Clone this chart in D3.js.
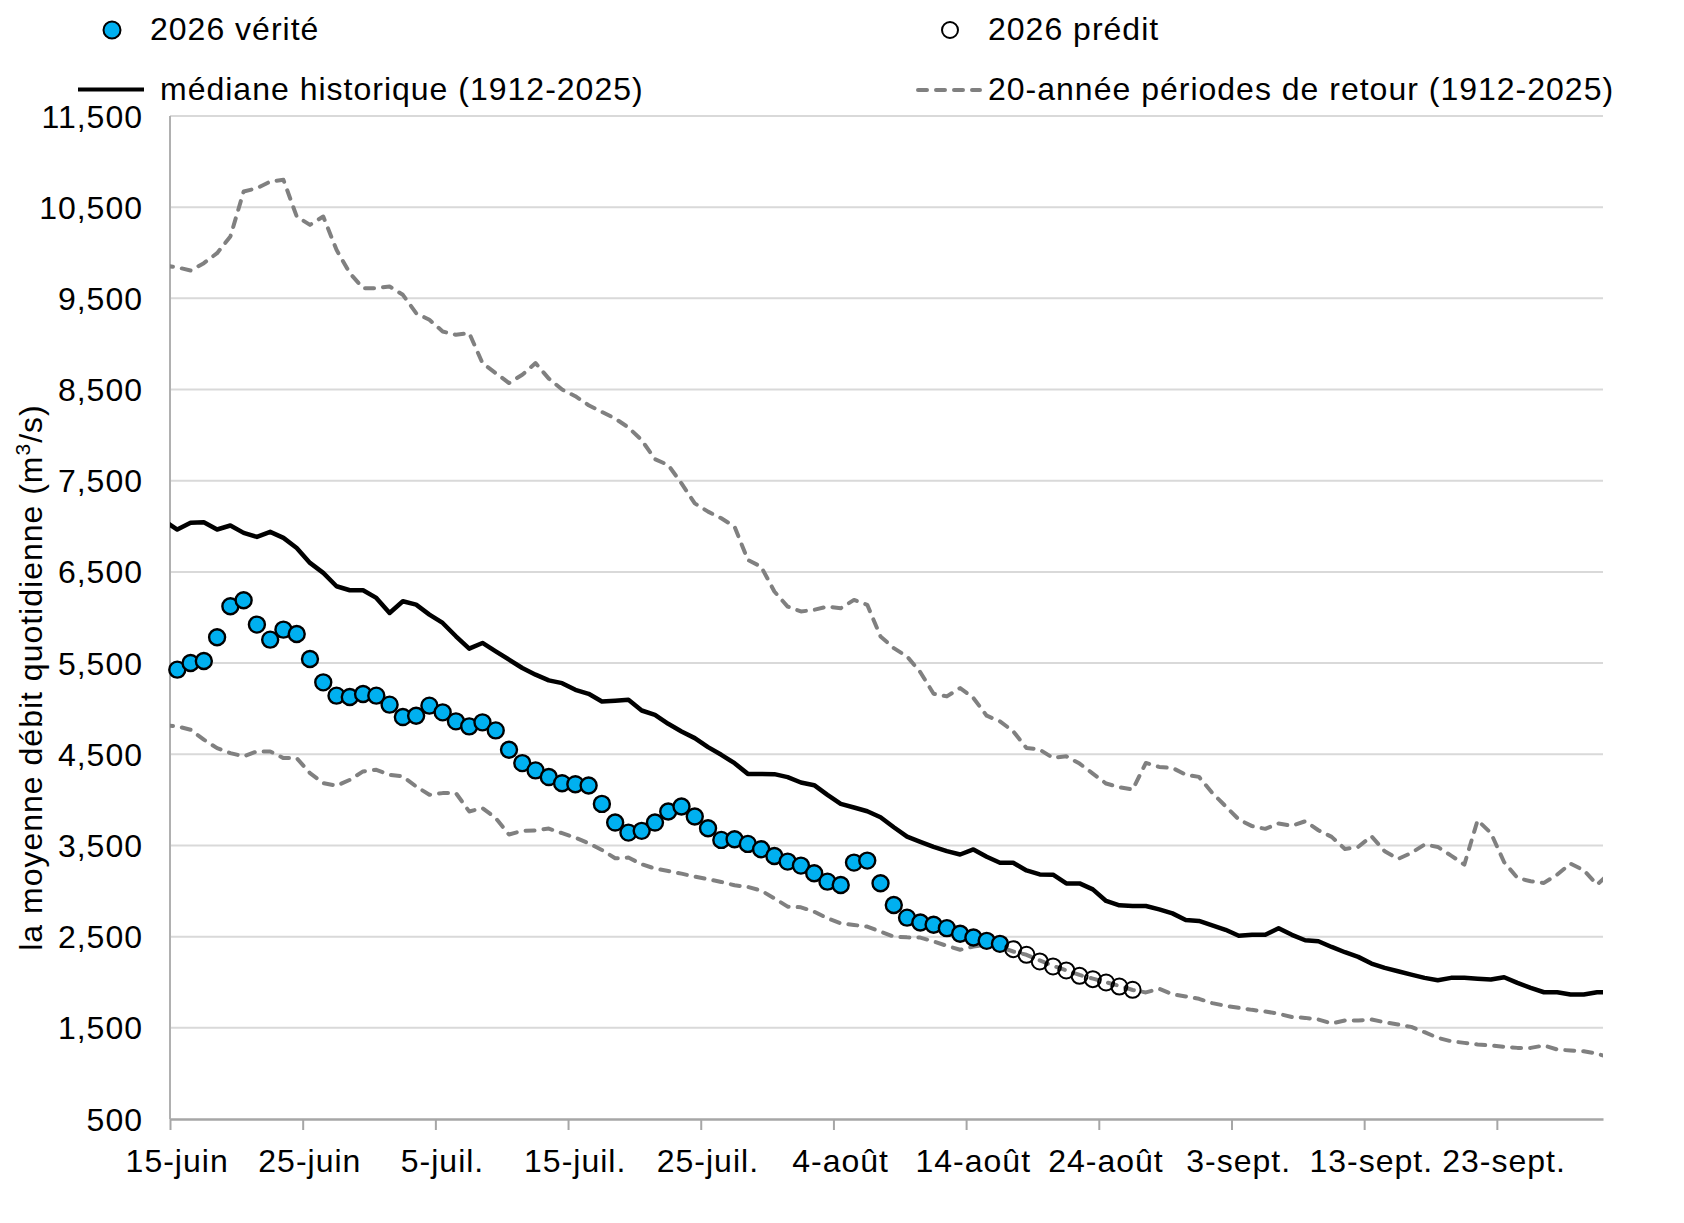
<!DOCTYPE html>
<html>
<head>
<meta charset="utf-8">
<script src="https://cdn.jsdelivr.net/npm/d3@7"></script>
<style>
  body { margin: 0; background: #fff; }
  text { font-family: "Liberation Sans", Arial, sans-serif; fill: #000; }
</style>
</head>
<body>
<svg id="chart" width="1684" height="1223"></svg>
<script>
// ---------------- DATA ----------------
// x tick labels (every 10 days starting 15 June)
const dateLabels = ["15-juin", "25-juin", "5-juil.", "15-juil.", "25-juil.", "4-août",
                    "14-août", "24-août", "3-sept.", "13-sept.", "23-sept."];
const tickDays = [0, 10, 20, 30, 40, 50, 60, 70, 80, 90, 100];
const yTicks = [500, 1500, 2500, 3500, 4500, 5500, 6500, 7500, 8500, 9500, 10500, 11500];

// day index of the first value of each historical series (14 June = -1)
const lineStartDay = -1;

// historical median (1912-2025), 14 June .. 1 Oct
const median = [7060, 6965, 7038, 7045, 6965, 7009, 6928, 6884, 6939, 6873, 6763,
  6599, 6489, 6343, 6299, 6299, 6215, 6050, 6178, 6141, 6032,
  5940, 5794, 5658, 5721, 5629, 5538, 5446, 5373, 5310, 5280,
  5207, 5163, 5079, 5087, 5098, 4980, 4933, 4834, 4750, 4677,
  4578, 4494, 4402, 4285, 4285, 4282, 4249, 4190, 4161, 4055,
  3956, 3916, 3875, 3810, 3700, 3597, 3540, 3485, 3438, 3401,
  3456, 3376, 3310, 3310, 3226, 3182, 3179, 3084, 3084, 3018,
  2891, 2843, 2836, 2836, 2799, 2755, 2682, 2672, 2624, 2575,
  2509, 2520, 2520, 2593, 2520, 2460, 2450, 2387, 2329, 2278,
  2205, 2157, 2121, 2084, 2048, 2022, 2048, 2048, 2037, 2029,
  2055, 1993, 1938, 1890, 1890, 1865, 1865, 1890, 1890];

// 20-year return period, upper envelope
const upper20 = [9860, 9840, 9806, 9886, 9996, 10178, 10672, 10708, 10781, 10800, 10398,
  10306, 10398, 10032, 9777, 9612, 9612, 9630, 9539, 9338, 9265,
  9137, 9100, 9119, 8790, 8680, 8571, 8662, 8790, 8620, 8500,
  8427, 8328, 8255, 8182, 8084, 7945, 7737, 7672, 7471, 7252,
  7161, 7088, 6996, 6631, 6558, 6285, 6120, 6066, 6084, 6120,
  6102, 6193, 6139, 5792, 5664, 5573, 5400, 5164, 5135, 5226,
  5117, 4923, 4861, 4752, 4569, 4551, 4460, 4478, 4398, 4288,
  4179, 4139, 4113, 4405, 4361, 4350, 4277, 4252, 4077, 3931,
  3785, 3712, 3682, 3741, 3715, 3765, 3667, 3594, 3462, 3484,
  3601, 3436, 3352, 3418, 3510, 3484, 3389, 3290, 3776, 3637,
  3316, 3144, 3107, 3089, 3181, 3301, 3228, 3071, 3200];

// 20-year return period, lower envelope
const lower20 = [4820, 4806, 4769, 4660, 4568, 4513, 4477, 4531, 4531, 4458, 4458,
  4294, 4184, 4155, 4220, 4312, 4330, 4275, 4257, 4147, 4056,
  4074, 4074, 3873, 3910, 3800, 3620, 3660, 3665, 3685, 3634,
  3586, 3524, 3451, 3359, 3367, 3294, 3246, 3220, 3191, 3158,
  3129, 3100, 3063, 3045, 3005, 2920, 2829, 2822, 2774, 2701,
  2646, 2628, 2610, 2555, 2500, 2492, 2490, 2447, 2399, 2356,
  2392, 2410, 2385, 2337, 2301, 2240, 2180, 2130, 2080, 2040,
  2000, 1960, 1915, 1888, 1928, 1869, 1844, 1818, 1771, 1741,
  1719, 1697, 1679, 1654, 1618, 1609, 1591, 1547, 1580, 1580,
  1591, 1561, 1536, 1510, 1452, 1390, 1353, 1335, 1317, 1306,
  1291, 1280, 1280, 1306, 1262, 1251, 1243, 1218, 1170];

// 2026 observed (from 15 June, day 0)
const veriteStartDay = 0;
const verite = [5428, 5501, 5523, 5783, 6123, 6189, 5922, 5757, 5867, 5819,
  5545, 5289, 5143, 5128, 5161, 5143, 5044, 4908, 4923, 5033,
  4960, 4861, 4806, 4850, 4762, 4550, 4403, 4323, 4250, 4183,
  4172, 4157, 3956, 3751, 3641, 3660, 3751, 3872, 3927, 3817,
  3689, 3561, 3568, 3517, 3458, 3385, 3323, 3279, 3195, 3103,
  3067, 3312, 3334, 3085, 2847, 2708, 2655, 2630, 2593, 2531,
  2491, 2454, 2421];

// 2026 predicted (from 17 Aug, day 63)
const preditStartDay = 63;
const predit = [2363, 2301, 2228, 2173, 2129, 2070, 2034, 1997, 1953, 1917];

const legendLabels = {
  verite: "2026 vérité",
  predit: "2026 prédit",
  median: "médiane historique (1912-2025)",
  rp: "20-année périodes de retour (1912-2025)"
};
const yTitle = "la moyenne débit quotidienne (m";

// ---------------- LAYOUT ----------------
const plot = { left: 170, right: 1603, top: 116, bottom: 1119 };
const POINT_OFFSET = 0.55;   // points sit inside their day slot
const FONT = 32;

const svg = d3.select("#chart");
const x = d3.scaleLinear().domain([0, 108]).range([plot.left, plot.right]);
const y = d3.scaleLinear().domain([500, 11500]).range([plot.bottom, plot.top]);

const toPts = (arr, start) => arr.map((v, i) => ({ d: start + i, v }));

// gridlines
svg.append("g").selectAll("line")
  .data(yTicks.filter(t => t !== 500))
  .join("line")
  .attr("x1", plot.left).attr("x2", plot.right)
  .attr("y1", d => y(d)).attr("y2", d => y(d))
  .attr("stroke", "#d9d9d9").attr("stroke-width", 2);

// y axis
const yAxis = svg.append("g")
  .attr("transform", `translate(${plot.left},0)`)
  .call(d3.axisLeft(y).tickValues(yTicks).tickSize(0).tickFormat(d3.format(",")));
yAxis.select(".domain").remove();
yAxis.selectAll("text")
  .attr("x", -27).attr("dy", null).attr("y", 11)
  .style("font-size", FONT + "px").style("letter-spacing", "1px")
  .attr("font-family", null);
svg.append("line")
  .attr("x1", plot.left).attr("x2", plot.left)
  .attr("y1", plot.top).attr("y2", plot.bottom)
  .attr("stroke", "#b0b0b0").attr("stroke-width", 2);

// x axis
const xAxis = svg.append("g")
  .attr("transform", `translate(0,${plot.bottom})`)
  .call(d3.axisBottom(x).tickValues(tickDays)
        .tickFormat((d, i) => dateLabels[i]).tickSize(11).tickSizeOuter(0));
xAxis.select(".domain").attr("stroke", "#a6a6a6").attr("stroke-width", 2.5);
xAxis.selectAll(".tick line").attr("stroke", "#a6a6a6").attr("stroke-width", 2);
xAxis.selectAll("text")
  .attr("x", x(0.5) - x(0)).attr("dy", null).attr("y", 53)
  .style("font-size", FONT + "px").style("letter-spacing", "1px")
  .attr("font-family", null);

// y title
svg.append("text")
  .attr("transform", `translate(42,${(plot.top + plot.bottom) / 2 + 60}) rotate(-90)`)
  .attr("text-anchor", "middle")
  .style("font-size", FONT + "px").style("letter-spacing", "1px")
  .call(t => {
    t.append("tspan").text(yTitle);
    t.append("tspan").attr("dy", -12).style("font-size", "21px").text("3");
    t.append("tspan").attr("dy", 12).text("/s)");
  });

// clip
svg.append("clipPath").attr("id", "clip")
  .append("rect").attr("x", plot.left).attr("y", plot.top)
  .attr("width", plot.right - plot.left).attr("height", plot.bottom - plot.top);

const line = d3.line().x(p => x(p.d + POINT_OFFSET)).y(p => y(p.v));
const lines = svg.append("g").attr("clip-path", "url(#clip)");

[upper20, lower20].forEach(arr => {
  lines.append("path")
    .datum(toPts(arr, lineStartDay))
    .attr("d", line)
    .attr("fill", "none").attr("stroke", "#808080").attr("stroke-width", 4)
    .attr("stroke-dasharray", "9,9").attr("stroke-linecap", "round")
    .attr("stroke-linejoin", "round");
});
lines.append("path")
  .datum(toPts(median, lineStartDay))
  .attr("d", line)
  .attr("fill", "none").attr("stroke", "#000").attr("stroke-width", 4.5)
  .attr("stroke-linejoin", "round");

// 2026 observed
svg.append("g").selectAll("circle")
  .data(toPts(verite, veriteStartDay))
  .join("circle")
  .attr("cx", p => x(p.d + POINT_OFFSET)).attr("cy", p => y(p.v))
  .attr("r", 8)
  .attr("fill", "#00b0f0").attr("stroke", "#000").attr("stroke-width", 2.4);

// 2026 predicted
svg.append("g").selectAll("circle")
  .data(toPts(predit, preditStartDay))
  .join("circle")
  .attr("cx", p => x(p.d + POINT_OFFSET)).attr("cy", p => y(p.v))
  .attr("r", 8)
  .attr("fill", "none").attr("stroke", "#000").attr("stroke-width", 2);

// ---------------- LEGEND ----------------
const lg = svg.append("g");
lg.append("circle").attr("cx", 112).attr("cy", 30).attr("r", 8.5)
  .attr("fill", "#00b0f0").attr("stroke", "#000").attr("stroke-width", 2);
lg.append("text").attr("x", 150).attr("y", 40).text(legendLabels.verite);

lg.append("circle").attr("cx", 950).attr("cy", 30).attr("r", 8)
  .attr("fill", "none").attr("stroke", "#000").attr("stroke-width", 2);
lg.append("text").attr("x", 988).attr("y", 40).text(legendLabels.predit);

lg.append("line").attr("x1", 78).attr("x2", 144).attr("y1", 89.5).attr("y2", 89.5)
  .attr("stroke", "#000").attr("stroke-width", 4);
lg.append("text").attr("x", 160).attr("y", 100).text(legendLabels.median);

lg.append("line").attr("x1", 918).attr("x2", 980).attr("y1", 90).attr("y2", 90)
  .attr("stroke", "#808080").attr("stroke-width", 4)
  .attr("stroke-dasharray", "9,9").attr("stroke-linecap", "round");
lg.append("text").attr("x", 988).attr("y", 100).text(legendLabels.rp);

lg.selectAll("text").style("font-size", FONT + "px").style("letter-spacing", "1px");
</script>
</body>
</html>
